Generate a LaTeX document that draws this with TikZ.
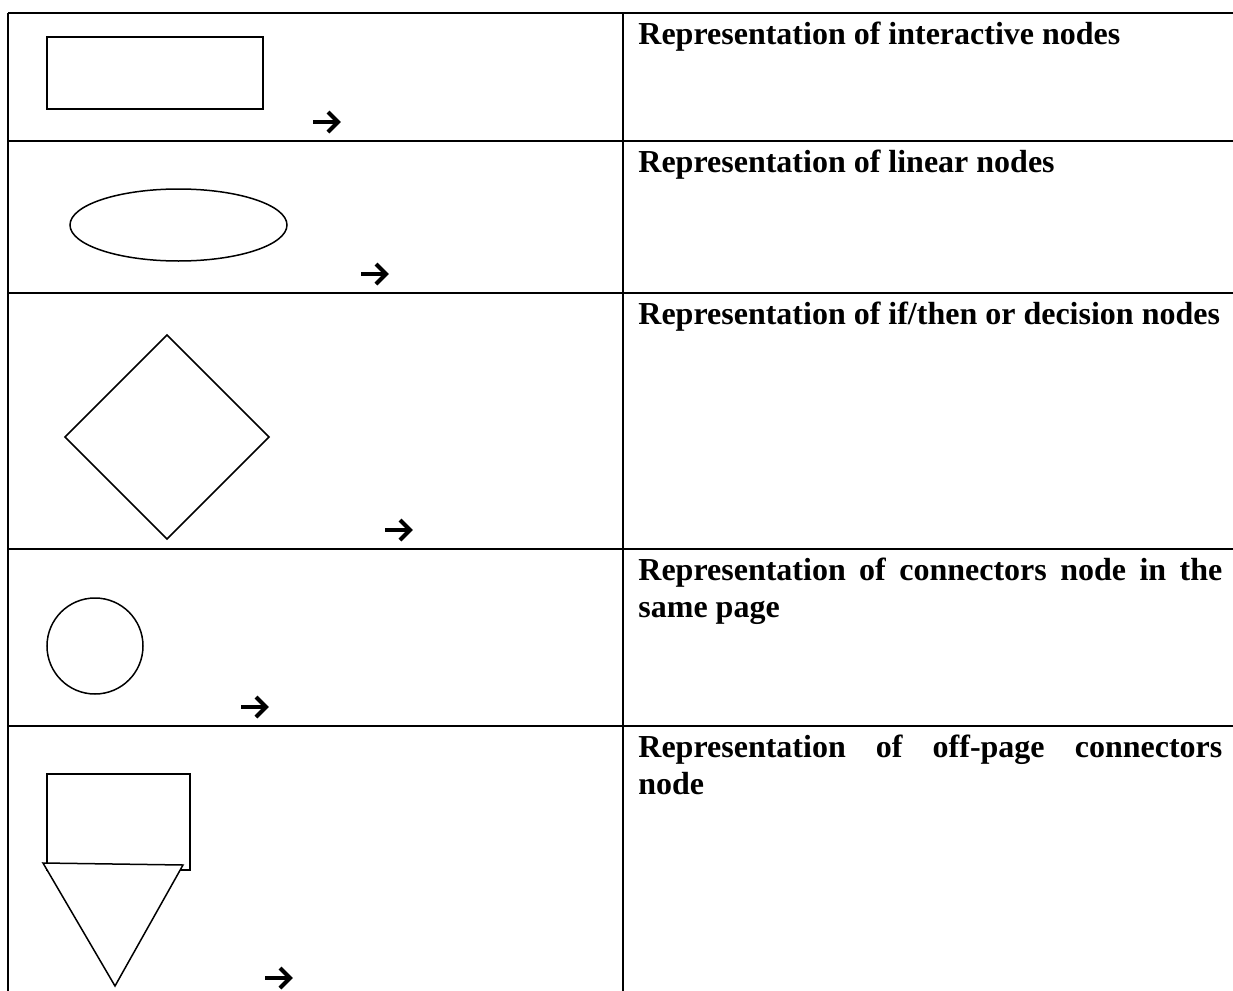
\documentclass[tikz,border=0pt]{standalone}
\usepackage{fontspec}
\setmainfont{Liberation Serif}
\begin{document}
\begin{tikzpicture}[x=0.5pt,y=-0.5pt,
  grid/.style={line width=1pt},
  shapeline/.style={line width=0.75pt, line join=miter},
  sym/.style={line width=2pt, line join=miter, line cap=butt},
  desc/.style={anchor=base west, inner sep=0pt, text width=292pt, align=justify,
    font=\fontsize{16pt}{18.5pt}\selectfont\bfseries}]
\useasboundingbox (0,0) rectangle (1233,991);
% table
\draw[grid] (8,13) -- (1240,13);
\draw[grid] (8,141) -- (1240,141);
\draw[grid] (8,293) -- (1240,293);
\draw[grid] (8,549) -- (1240,549);
\draw[grid] (8,726) -- (1240,726);
\draw[grid] (8,13) -- (8,995);
\draw[grid] (623,13) -- (623,995);
% row 1: rectangle
\draw[shapeline] (47,37) rectangle (263,109);
\draw[sym] (313,122) -- (338,122);
\draw[sym] (328,112) -- (338,122) -- (328,132);
% row 2: ellipse
\draw[shapeline] (178.5,225) ellipse [x radius=108.5, y radius=36];
\draw[sym] (361,274) -- (386,274);
\draw[sym] (376,264) -- (386,274) -- (376,284);
% row 3: diamond
\draw[shapeline] (167,335) -- (269,437) -- (167,539) -- (65,437) -- cycle;
\draw[sym] (385,530) -- (410,530);
\draw[sym] (400,520) -- (410,530) -- (400,540);
% row 4: circle
\draw[shapeline] (95,646) circle [radius=48];
\draw[sym] (241,707) -- (266,707);
\draw[sym] (256,697) -- (266,707) -- (256,717);
% row 5: off-page connector
\draw[shapeline] (47,774) rectangle (190,870);
\draw[shapeline, fill=white] (43,863) -- (183,865) -- (115,986) -- cycle;
\draw[sym] (265,978) -- (290,978);
\draw[sym] (280,968) -- (290,978) -- (280,988);
% descriptions
\node[desc] (d1) at (638,44) {Representation of interactive nodes};
\node[desc] (d2) at (638,172) {Representation of linear nodes};
\node[desc] (d3) at (638,324) {Representation of if/then or decision nodes};
\node[desc] (d4) at (638,580) {Representation of connectors node in the same page};
\node[desc] (d5) at (638,757) {Representation of off-page connectors\linebreak node};
\end{tikzpicture}
\end{document}
